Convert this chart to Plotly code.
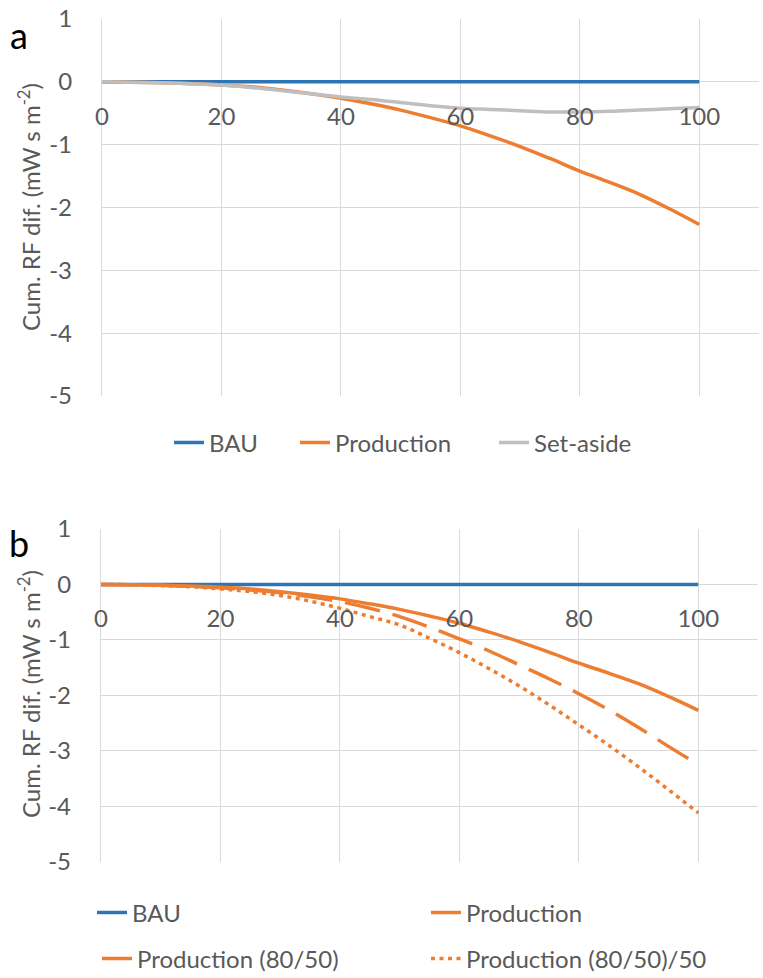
import plotly.graph_objects as go

years = [0, 5, 10, 15, 20, 25, 30, 35, 40, 45, 50, 55, 60, 65, 70, 75, 80, 85, 90, 95, 100]
bau = [0.0] * len(years)
production = [0, -0.005, -0.015, -0.03, -0.05, -0.08, -0.13, -0.19, -0.26, -0.35, -0.45,
              -0.57, -0.70, -0.86, -1.03, -1.22, -1.42, -1.60, -1.79, -2.02, -2.27]
set_aside = [0, -0.005, -0.015, -0.03, -0.05, -0.09, -0.14, -0.19, -0.24, -0.28, -0.33,
             -0.38, -0.42, -0.44, -0.46, -0.48, -0.48, -0.47, -0.45, -0.43, -0.41]
prod_80_50 = [0, -0.005, -0.015, -0.035, -0.06, -0.10, -0.15, -0.22, -0.31, -0.43, -0.58,
              -0.77, -0.98, -1.20, -1.45, -1.70, -1.97, -2.26, -2.58, -2.92, -3.25]
prod_80_50_50 = [0, -0.005, -0.02, -0.04, -0.08, -0.13, -0.20, -0.30, -0.43, -0.58, -0.73,
                 -0.97, -1.23, -1.52, -1.83, -2.17, -2.53, -2.90, -3.29, -3.70, -4.12]

x_ticks = [0, 20, 40, 60, 80, 100]
y_ticks = [1, 0, -1, -2, -3, -4, -5]
y_ticktext = ["1", "0", "-1", "-2", "-3", "-4", "-5"]
y_title = "Cum. RF dif. (mW s m<sup>-2</sup>)"

W, H = 763, 978
BLUE, ORANGE, GRAY = "#2E75B6", "#ED7D31", "#BFBFBF"
FONT = "Lato"
TICKC = "#595959"
GRID = "#D9D9D9"
LW = 3.5
LEG_OFF = 41  # px from legend x to text start

def fy(px):
    return (H - px) / H

a_dom_y = [fy(396), fy(19)]
b_dom_y = [fy(861.7), fy(529)]
a_dom_x = [102 / W, 759 / W]
b_dom_x = [101 / W, 758 / W]
yr = [min(y_ticks), max(y_ticks)]

def zero_pos(dom):
    return dom[0] + (0 - yr[0]) / (yr[1] - yr[0]) * (dom[1] - dom[0])

fig = go.Figure()

# (name, y, color, dash, xaxis, yaxis, legend id, text start px, row center px)
series = [
    ("BAU", bau, BLUE, "solid", "x", "y", "legend", 210, 443),
    ("Production", production, ORANGE, "solid", "x", "y", "legend2", 336, 443),
    ("Set-aside", set_aside, GRAY, "solid", "x", "y", "legend3", 535, 443),
    ("BAU", bau, BLUE, "solid", "x2", "y2", "legend4", 133, 913),
    ("Production", production, ORANGE, "solid", "x2", "y2", "legend5", 467, 913),
    ("Production (80/50)", prod_80_50, ORANGE, "36px,13px", "x2", "y2", "legend6", 138, 959),
    ("Production (80/50)/50", prod_80_50_50, ORANGE, "4px,4.5px", "x2", "y2", "legend7", 467, 959),
]

legends = {}
for name, y, color, dash, xa, ya, leg, tx, ty in series:
    fig.add_trace(go.Scatter(x=years, y=y, name=name, mode="lines", xaxis=xa, yaxis=ya,
                             legend=leg,
                             line=dict(color=color, width=LW, shape="spline", dash=dash)))
    legends[leg] = dict(orientation="h", x=(tx - LEG_OFF) / W, xanchor="left", y=fy(ty),
                        yanchor="middle", font=dict(family=FONT, size=24, color=TICKC),
                        bgcolor="rgba(0,0,0,0)", itemwidth=30)

xcommon = dict(range=[0, 110], tickvals=x_ticks, showgrid=True, gridcolor=GRID, gridwidth=1.3,
               zeroline=False, showline=False, ticks="", automargin=False,
               tickfont=dict(family=FONT, size=24, color=TICKC),
               anchor="free", ticklabelstandoff=18, fixedrange=True)
ycommon = dict(range=yr, tickvals=y_ticks, ticktext=y_ticktext, showgrid=True, gridcolor=GRID,
               gridwidth=1.3, zeroline=False, showline=True, linecolor=GRID, linewidth=1.3,
               ticks="", automargin=False, tickfont=dict(family=FONT, size=24, color=TICKC),
               ticklabelstandoff=24, fixedrange=True)

fig.update_layout(
    width=W, height=H, margin=dict(l=0, r=0, t=0, b=0, autoexpand=False),
    paper_bgcolor="white", plot_bgcolor="white",
    font=dict(family=FONT, size=24, color=TICKC),
    xaxis=dict(domain=a_dom_x, position=zero_pos(a_dom_y), **xcommon),
    yaxis=dict(domain=a_dom_y, anchor="x", **ycommon),
    xaxis2=dict(domain=b_dom_x, position=zero_pos(b_dom_y), **xcommon),
    yaxis2=dict(domain=b_dom_y, anchor="x2", **ycommon),
    showlegend=True,
    **legends,
)

annots = [
    dict(text="a", x=19, y=35, font=dict(family=FONT, size=36, color="black")),
    dict(text="b", x=19, y=543, font=dict(family=FONT, size=36, color="black")),
    dict(text=y_title, x=29, y=207, textangle=-90, font=dict(family=FONT, size=24, color=TICKC)),
    dict(text=y_title, x=29, y=694, textangle=-90, font=dict(family=FONT, size=24, color=TICKC)),
]
for a in annots:
    fig.add_annotation(text=a["text"], x=a["x"] / W, y=fy(a["y"]), xref="paper", yref="paper",
                       xanchor="center", yanchor="middle", showarrow=False,
                       textangle=a.get("textangle", 0), font=a["font"])

fig.write_html("out.html")
